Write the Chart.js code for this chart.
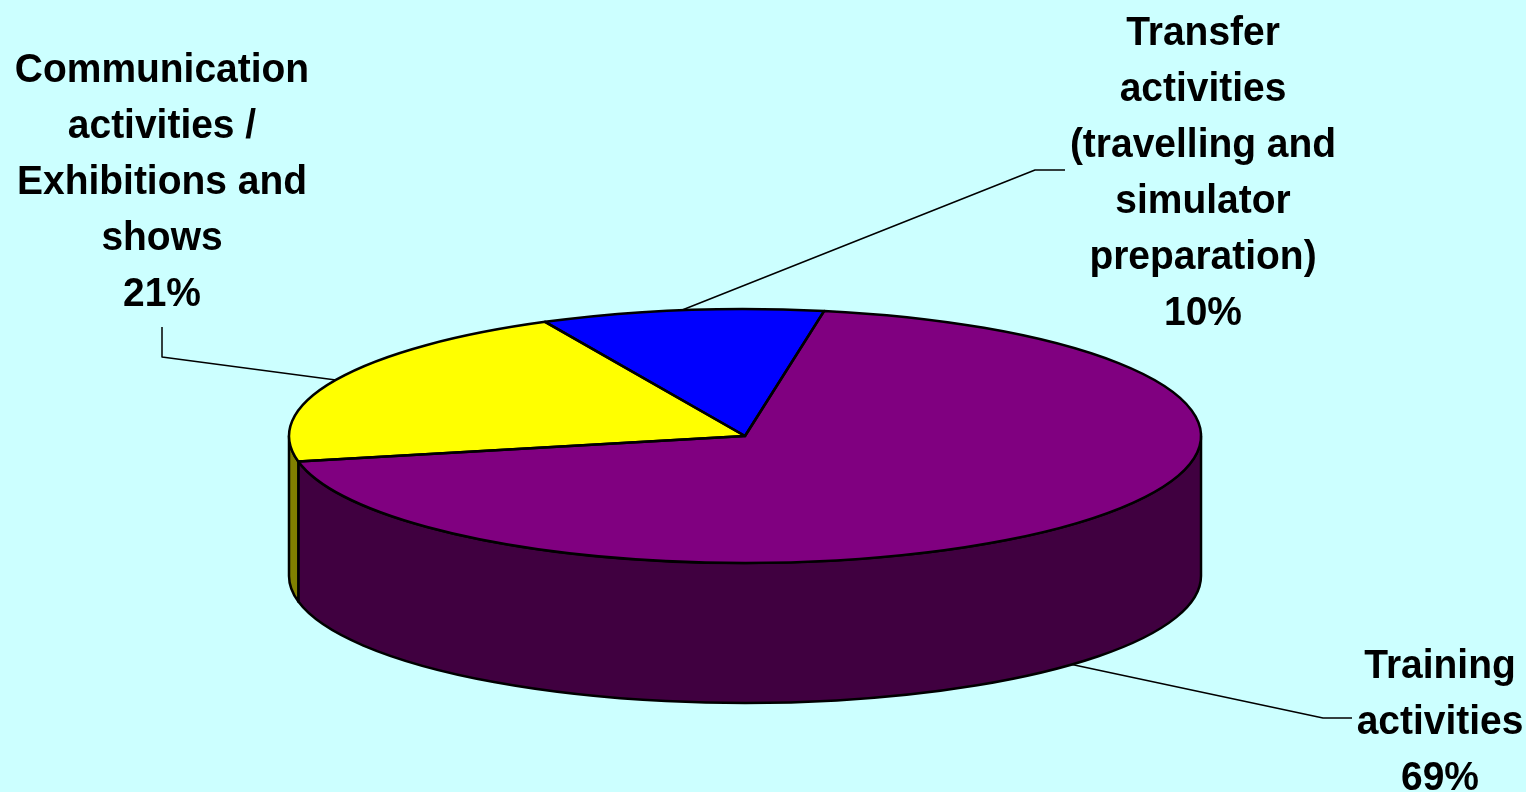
<!DOCTYPE html>
<html>
<head>
<meta charset="utf-8">
<script src="https://cdn.jsdelivr.net/npm/chart.js@4.4.1/dist/chart.umd.min.js"></script>
<style>
  html, body { margin: 0; padding: 0; background: #CCFFFF; }
  #wrap { width: 1526px; height: 792px; position: relative; }
</style>
</head>
<body>
<div id="wrap"><canvas id="pieChart"></canvas></div>
<script>
// data
const categories = ['Training activities', 'Communication activities / Exhibitions and shows', 'Transfer activities (travelling and simulator preparation)'];
const shares = [69, 21, 10];

// how each label is broken into lines
const labelLines = [
    ['Training', 'activities'],
    ['Communication', 'activities /', 'Exhibitions and', 'shows'],
    ['Transfer', 'activities', '(travelling and', 'simulator', 'preparation)']
];

const faceColors = ['#800080', '#FFFF00', '#0000FF'];
const sideColors = ['#400040', '#808000', '#000080'];

// ellipse on screen (the pie is drawn squashed into this)
const CX = 745, CY = 436, RX = 456, RY = 127, DEPTH = 140;

// label placement: text centre x, first baseline, elbow of the leader line
const labelPos = [
    { x: 1440, y: 678, elbow: [[1352, 718], [1323, 718]] },
    { x: 162, y: 82, elbow: [[162, 327], [162, 357]] },
    { x: 1203, y: 45, elbow: [[1065, 170], [1035, 170]] }
];

function ellPt(a, dy) {
    return [CX + RX * Math.cos(a), CY + RY * Math.sin(a) + (dy || 0)];
}

// visible front part of a slice side (angles 0..PI, also wrapped)
function frontRanges(s, e) {
    const out = [];
    for (let k = -1; k <= 2; k++) {
        const lo = Math.max(s, k * 2 * Math.PI);
        const hi = Math.min(e, k * 2 * Math.PI + Math.PI);
        if (hi > lo) out.push([lo, hi]);
    }
    return out;
}

const pie3d = {
    id: 'pie3d',
    beforeDatasetsDraw(chart) {
        const ctx = chart.ctx;
        const arcs = chart.getDatasetMeta(0).data;

        // side walls
        ctx.save();
        ctx.lineWidth = 2.5;
        ctx.strokeStyle = '#000';
        ctx.lineJoin = 'round';
        arcs.forEach((arc, i) => {
            frontRanges(arc.startAngle, arc.endAngle).forEach(r => {
                const p = ellPt(r[1], DEPTH);
                ctx.beginPath();
                ctx.ellipse(CX, CY, RX, RY, 0, r[0], r[1], false);
                ctx.lineTo(p[0], p[1]);
                ctx.ellipse(CX, CY + DEPTH, RX, RY, 0, r[1], r[0], true);
                ctx.closePath();
                ctx.fillStyle = sideColors[i];
                ctx.fill();
                ctx.stroke();
            });
        });
        ctx.restore();

        // squash the real pie into the top ellipse
        const a0 = arcs[0];
        ctx.save();
        ctx.translate(CX, CY);
        ctx.scale(RX / a0.outerRadius, RY / a0.outerRadius);
        ctx.translate(-a0.x, -a0.y);
    },
    afterDatasetsDraw(chart) {
        const ctx = chart.ctx;
        ctx.restore();
        const arcs = chart.getDatasetMeta(0).data;

        // slice outlines on the top face
        ctx.save();
        ctx.lineWidth = 2.5;
        ctx.strokeStyle = '#000';
        ctx.lineJoin = 'round';
        arcs.forEach(arc => {
            const p = ellPt(arc.startAngle);
            ctx.beginPath();
            ctx.moveTo(CX, CY);
            ctx.lineTo(p[0], p[1]);
            ctx.ellipse(CX, CY, RX, RY, 0, arc.startAngle, arc.endAngle, false);
            ctx.closePath();
            ctx.stroke();
        });

        // leader lines
        ctx.lineWidth = 1.5;
        arcs.forEach((arc, i) => {
            const mid = (arc.startAngle + arc.endAngle) / 2;
            const front = Math.sin(mid) > 0;
            const p = ellPt(mid, front ? DEPTH : 0);
            const el = labelPos[i].elbow;
            ctx.beginPath();
            ctx.moveTo(el[0][0], el[0][1]);
            ctx.lineTo(el[1][0], el[1][1]);
            ctx.lineTo(p[0], p[1]);
            ctx.stroke();
        });

        // labels
        ctx.fillStyle = '#000';
        ctx.font = "bold 41px 'Liberation Sans', Arial, sans-serif";
        ctx.textAlign = 'center';
        ctx.textBaseline = 'alphabetic';
        categories.forEach((c, i) => {
            const lines = labelLines[i].concat([shares[i] + '%']);
            lines.forEach((t, j) => {
                ctx.save();
                ctx.translate(labelPos[i].x, labelPos[i].y + j * 56);
                ctx.scale(0.95, 1);
                ctx.fillText(t, 0, 0);
                ctx.restore();
            });
        });
        ctx.restore();
    }
};

const pieCtx = document.getElementById('pieChart');

new Chart(pieCtx, {
    type: 'pie',
    data: {
        labels: categories,
        datasets: [{
            data: shares,
            backgroundColor: faceColors,
            borderWidth: 0,
            clip: false
        }]
    },
    options: {
        responsive: true,
        maintainAspectRatio: false,
        animation: false,
        events: [],
        rotation: 10,
        layout: { padding: 60 },
        plugins: {
            legend: { display: false },
            tooltip: { enabled: false }
        }
    },
    plugins: [pie3d]
});
</script>
</body>
</html>
